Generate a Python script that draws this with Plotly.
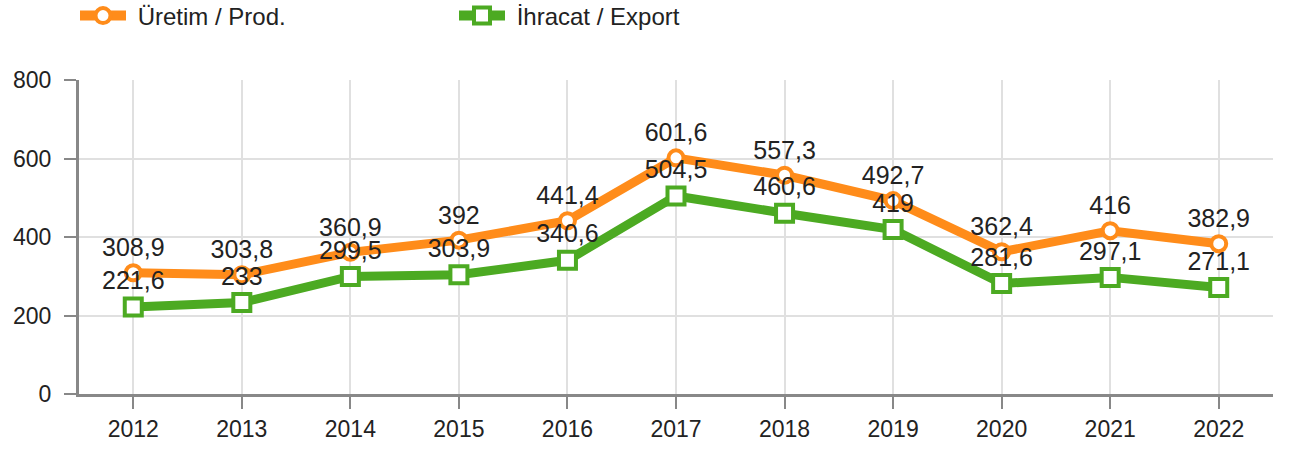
import plotly.graph_objects as go

years = ["2012", "2013", "2014", "2015", "2016", "2017", "2018", "2019", "2020", "2021", "2022"]
prod = [308.9, 303.8, 360.9, 392, 441.4, 601.6, 557.3, 492.7, 362.4, 416, 382.9]
export = [221.6, 233, 299.5, 303.9, 340.6, 504.5, 460.6, 419, 281.6, 297.1, 271.1]
y_ticks = [0, 200, 400, 600, 800]
names = ["Üretim / Prod.", "İhracat / Export"]

def fmt(v):
    s = ("%g" % v)
    return s.replace(".", ",")

FONT = "Liberation Sans, Arial, sans-serif"
ORANGE = "#FF8C1A"
GREEN = "#4CAA22"

fig = go.Figure()
fig.add_trace(go.Scatter(
    x=years, y=prod, name=names[0], mode="lines+markers+text", showlegend=False,
    line=dict(color=ORANGE, width=9),
    marker=dict(symbol="circle", size=15, color="white", line=dict(color=ORANGE, width=4)),
    text=[fmt(v) for v in prod], textposition="top center",
    textfont=dict(family=FONT, size=25, color="#222222"),
))
fig.add_trace(go.Scatter(
    x=years, y=export, name=names[1], mode="lines+markers+text", showlegend=False,
    line=dict(color=GREEN, width=9),
    marker=dict(symbol="square", size=17, color="white", line=dict(color=GREEN, width=4)),
    text=[fmt(v) for v in export], textposition="top center",
    textfont=dict(family=FONT, size=25, color="#222222"),
))
# legend-only entries (thicker legend swatches)
fig.add_trace(go.Scatter(
    x=[None], y=[None], name="\u00a0" + names[0], mode="lines+markers",
    line=dict(color=ORANGE, width=14),
    marker=dict(symbol="circle", size=15, color="white", line=dict(color=ORANGE, width=4)),
))
fig.add_trace(go.Scatter(
    x=[None], y=[None], name="\u00a0" + names[1], mode="lines+markers",
    line=dict(color=GREEN, width=14),
    marker=dict(symbol="square", size=17, color="white", line=dict(color=GREEN, width=4)),
))

fig.update_layout(
    width=1290, height=459,
    margin=dict(l=79, r=17, t=80, b=65),
    paper_bgcolor="white", plot_bgcolor="white",
    font=dict(family=FONT, size=23, color="#222222"),
    showlegend=True,
    legend=dict(orientation="h", xref="container", x=75 / 1290, xanchor="left",
                yref="container", y=1 - 16 / 459, yanchor="middle",
                font=dict(size=24, color="#222222"),
                entrywidth=318, entrywidthmode="pixels", itemwidth=46),
    xaxis=dict(type="category", range=[-0.5, 10.5], showgrid=True, gridcolor="#E0E0E0", gridwidth=2,
               ticks="outside", ticklen=12, tickcolor="#888888", tickwidth=2,
               showline=True, linecolor="#888888", linewidth=3, zeroline=False,
               tickfont=dict(size=23)),
    yaxis=dict(range=[0, 800], tickvals=y_ticks, showgrid=True, gridcolor="#E0E0E0", gridwidth=2,
               ticks="outside", ticklen=12, tickcolor="#888888", tickwidth=2,
               showline=True, linecolor="#888888", linewidth=3, zeroline=False,
               tickfont=dict(size=23), ticklabelstandoff=8),
)

fig.write_html("out.html")
